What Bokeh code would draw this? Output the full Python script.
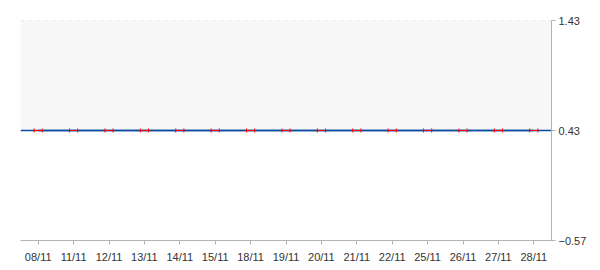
from bokeh.plotting import figure
from bokeh.models import ColumnDataSource, FixedTicker, BoxAnnotation, Span, Range1d, FactorRange
from bokeh.transform import dodge
from bokeh.embed import file_html
from bokeh.resources import INLINE

dates = ["08/11", "11/11", "12/11", "13/11", "14/11", "15/11", "18/11", "19/11",
         "20/11", "21/11", "22/11", "25/11", "26/11", "27/11", "28/11"]
values = [0.43, 0.43, 0.43, 0.43, 0.43, 0.43, 0.43, 0.43,
          0.43, 0.43, 0.43, 0.43, 0.43, 0.43, 0.43]
y_ticks = [-0.57, 0.43, 1.43]
band_low = 0.43
band_high = 1.43
reference_level = 0.43

src = ColumnDataSource(dict(date=dates, value=values))

p = figure(width=600, height=270, x_range=FactorRange(*dates), y_range=Range1d(-0.57, 1.43),
           y_axis_location="right", output_backend="svg", toolbar_location=None,
           min_border_left=20, min_border_right=49, min_border_top=20, min_border_bottom=30)
p.outline_line_color = None
p.background_fill_color = "white"
p.xgrid.visible = False
p.ygrid.visible = False
p.x_range.range_padding = 0

p.add_layout(BoxAnnotation(bottom=band_low, top=band_high, fill_color="#f7f7f7", fill_alpha=1,
                           line_color=None, level="underlay"))
p.add_layout(Span(location=band_high, dimension="width", line_color="#d9d9d9", line_dash="4 4",
                  line_width=1, level="underlay"))
p.add_layout(Span(location=reference_level, dimension="width", line_color="#0b4a9e",
                  line_width=1.5, level="underlay"))

p.line(x="date", y="value", source=src, line_color="#0b4a9e", line_width=1.5)
p.segment(x0=dodge("date", -0.115, range=p.x_range), y0="value",
          x1=dodge("date", 0.115, range=p.x_range), y1="value",
          source=src, line_color="#ff0000", line_width=1.2)
for off in (-0.115, 0.115):
    p.scatter(x=dodge("date", off, range=p.x_range), y="value", source=src, marker="dash",
              angle=1.5708, size=4, line_color="#ff0000", line_width=1)

for ax in (p.xaxis[0], p.yaxis[0]):
    ax.axis_line_color = "#b3b3b3"
    ax.major_tick_line_color = "#b3b3b3"
    ax.major_tick_out = 4
    ax.major_tick_in = 0
    ax.minor_tick_line_color = None
    ax.major_label_text_font = "Liberation Sans"
    ax.major_label_text_font_size = "11px"
    ax.major_label_text_color = "#333333"
p.yaxis[0].ticker = FixedTicker(ticks=y_ticks)
p.yaxis[0].major_label_standoff = 3
p.xaxis[0].major_label_standoff = 6

open("out.html", "w").write(file_html(p, INLINE))
